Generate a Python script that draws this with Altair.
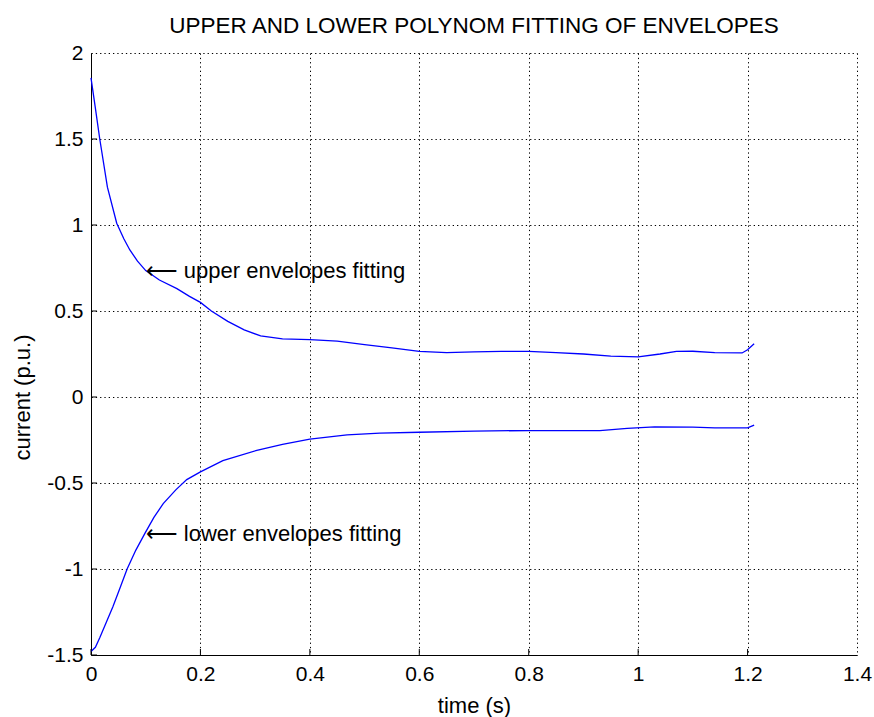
import altair as alt
import pandas as pd

# ---- data ----
upper_t = [0.0, 0.008, 0.016, 0.03, 0.047, 0.06, 0.071, 0.085, 0.1, 0.125, 0.157, 0.18, 0.2,
           0.22, 0.25, 0.28, 0.31, 0.35, 0.4, 0.45, 0.5, 0.55, 0.6, 0.65, 0.7, 0.75, 0.8,
           0.85, 0.9, 0.95, 1.0, 1.04, 1.07, 1.1, 1.14, 1.19, 1.2, 1.212]
upper_i = [1.855, 1.68, 1.5, 1.22, 1.01, 0.92, 0.855, 0.79, 0.735, 0.68, 0.63, 0.585, 0.55,
           0.5, 0.44, 0.39, 0.355, 0.338, 0.333, 0.325, 0.305, 0.285, 0.265, 0.258, 0.262, 0.265, 0.265,
           0.258, 0.25, 0.238, 0.233, 0.25, 0.265, 0.266, 0.258, 0.256, 0.275, 0.31]

lower_t = [0.0, 0.008, 0.016, 0.028, 0.04, 0.053, 0.066, 0.082, 0.099, 0.115, 0.132, 0.155, 0.175, 0.2,
           0.241, 0.303, 0.35, 0.4, 0.468, 0.528, 0.6, 0.7, 0.8, 0.9, 0.93, 0.98, 1.03, 1.1, 1.14, 1.2, 1.212]
lower_i = [-1.48, -1.455, -1.4, -1.31, -1.22, -1.11, -1.0, -0.89, -0.79, -0.7, -0.62, -0.54, -0.48, -0.435,
           -0.37, -0.31, -0.275, -0.245, -0.22, -0.21, -0.205, -0.198, -0.195, -0.195, -0.195, -0.183,
           -0.174, -0.175, -0.18, -0.18, -0.163]

x_ticks = [0, 0.2, 0.4, 0.6, 0.8, 1, 1.2, 1.4]
y_ticks = [-1.5, -1, -0.5, 0, 0.5, 1, 1.5, 2]

annot_text = ["\u27f5 upper envelopes fitting", "\u27f5 lower envelopes fitting"]
annot_t = [0.1, 0.1]
annot_i = [0.733, -0.797]

FONT = "Liberation Sans"
W, H = 766, 602

curves = pd.concat([
    pd.DataFrame({"t": upper_t, "i": upper_i, "series": "upper"}),
    pd.DataFrame({"t": lower_t, "i": lower_i, "series": "lower"}),
])
annots = pd.DataFrame({"t": annot_t, "i": annot_i, "label": annot_text})
xt = pd.DataFrame({"t": x_ticks[:-1]})
yt = pd.DataFrame({"i": y_ticks[:-1]})

x_enc = alt.X("t:Q",
              scale=alt.Scale(domain=[0, 1.4], nice=False, zero=False),
              axis=alt.Axis(values=x_ticks, title="time (s)", ticks=False,
                            labelExpr="'' + datum.value", labelPadding=8,
                            labelFlush=False, labelOverlap=False,
                            titleY=50, titleBaseline="middle"))
y_enc = alt.Y("i:Q",
              scale=alt.Scale(domain=[-1.5, 2], nice=False, zero=False),
              axis=alt.Axis(values=y_ticks, title="current (p.u.)", ticks=False,
                            labelExpr="'' + datum.value", labelPadding=8,
                            labelFlush=False, labelOverlap=False,
                            titleX=-69, titleY=344, titleAngle=270,
                            titleAlign="center", titleBaseline="middle"))

lines = alt.Chart(curves).mark_line(color="#0000ff", strokeWidth=1.3).encode(
    x=x_enc, y=y_enc, detail="series:N")

text = alt.Chart(annots).mark_text(align="left", baseline="middle", font=FONT,
                                   fontSize=22, color="black").encode(
    x=x_enc, y=y_enc, text="label:N")

xticks = alt.Chart(xt).mark_rule(color="black", strokeWidth=1).encode(
    x=x_enc, y=alt.value(H), y2=alt.value(H - 6))
yticks = alt.Chart(yt).mark_rule(color="black", strokeWidth=1).encode(
    y=y_enc, x=alt.value(0), x2=alt.value(6))

chart = alt.layer(lines, xticks, yticks, text).properties(
    width=W, height=H,
    title=alt.TitleParams("UPPER AND LOWER POLYNOM FITTING OF ENVELOPES",
                          font=FONT, fontSize=22.5, fontWeight="normal",
                          color="black", anchor="middle", offset=5),
    autosize=alt.AutoSizeParams(type="none"),
    padding={"left": 91, "top": 53, "right": 17, "bottom": 62},
    background="white",
).configure_view(stroke=None).configure_axis(
    labelFont=FONT, labelFontSize=21, labelColor="black",
    titleFont=FONT, titleFontSize=22, titleFontWeight="normal", titleColor="black",
    domainColor="black", domainWidth=1,
    grid=True, gridColor="black", gridDash=[1.3, 3], gridWidth=1, gridOpacity=1,
)

chart.save("out.html", embed_options={"renderer": "svg", "actions": False})
